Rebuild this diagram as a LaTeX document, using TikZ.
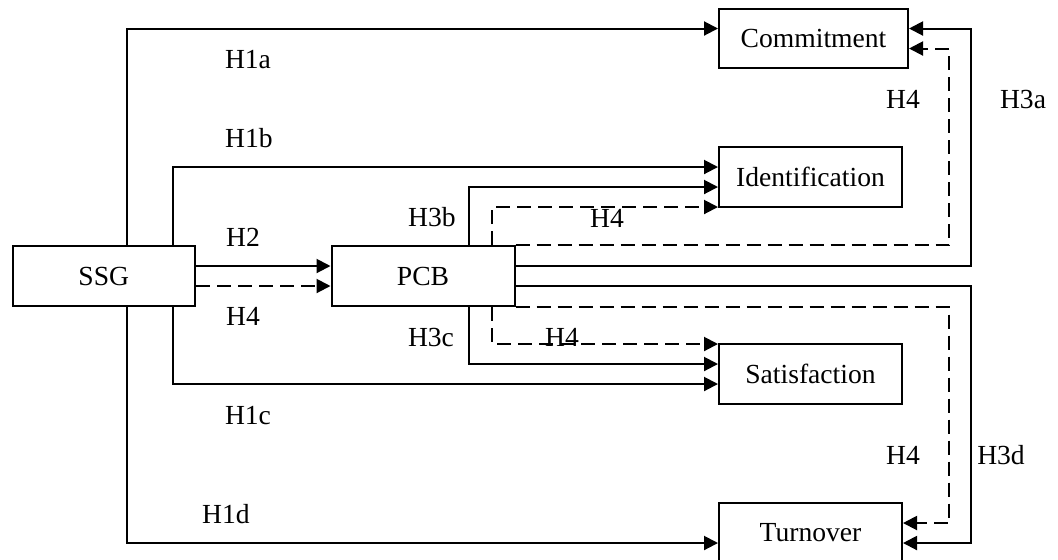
\documentclass[tikz,border=0pt]{standalone}
\usepackage{fontspec}
\setmainfont{Liberation Serif}
\usetikzlibrary{arrows.meta, calc}

\begin{document}
\begin{tikzpicture}[x=0.5pt, y=-0.5pt,
  varbox/.style={draw, line width=1pt, minimum width=91.5pt, minimum height=30pt, inner sep=0pt, font=\fontsize{13.8}{16}\selectfont},
  solidarr/.style={line width=1pt, -{Triangle[length=7pt, width=7pt]}},
  dasharr/.style={solidarr, dash pattern=on 7pt off 3.5pt},
  hyp/.style={inner sep=0pt, font=\fontsize{13.8}{16}\selectfont}]
  \useasboundingbox (0,0) rectangle (1058,559);

  % Variables
  \node[varbox, minimum width=91.25pt] (ssg) at (103.75, 276) {SSG};
  \node[varbox] (pcb) at (423, 276) {PCB};
  \node[varbox, minimum width=94.5pt, minimum height=29.5pt] (com) at (813.5, 38.5) {Commitment};
  \node[varbox] (idf) at (810.5, 177) {Identification};
  \node[varbox] (sat) at (810.5, 374) {Satisfaction};
  \node[varbox] (tur) at (810.5, 533) {Turnover};

  % Direct paths from SSG
  \draw[solidarr] ($(ssg.north)+(23,0)$) |- ($(com.west)+(0,-10)$);
  \draw[solidarr] ($(ssg.north)+(69,0)$) |- ($(idf.west)+(0,-10)$);
  \draw[solidarr] ($(ssg.south)+(69,0)$) |- ($(sat.west)+(0,10)$);
  \draw[solidarr] ($(ssg.south)+(23,0)$) |- ($(tur.west)+(0,10)$);
  \draw[solidarr] ($(ssg.east)+(0,-10)$) -- ($(pcb.west)+(0,-10)$);
  \draw[dasharr] ($(ssg.east)+(0,10)$) -- ($(pcb.west)+(0,10)$);

  % Paths from PCB
  \draw[solidarr] ($(pcb.north)+(46,0)$) |- ($(idf.west)+(0,10)$);
  \draw[dasharr] ($(pcb.north)+(69,0)$) |- ($(idf.west)+(0,30)$);
  \draw[solidarr] ($(pcb.south)+(46,0)$) |- ($(sat.west)+(0,-10)$);
  \draw[dasharr] ($(pcb.south)+(69,0)$) |- ($(sat.west)+(0,-30)$);
  \draw[solidarr] ($(pcb.east)+(0,-10)$) -| ($(com.east)+(62,-10)$) -- ($(com.east)+(0,-10)$);
  \draw[dasharr] (pcb.north east) -| ($(com.east)+(40,10)$) -- ($(com.east)+(0,10)$);
  \draw[solidarr] ($(pcb.east)+(0,10)$) -| ($(tur.east)+(68,10)$) -- ($(tur.east)+(0,10)$);
  \draw[dasharr] (pcb.south east) -| ($(tur.east)+(46,-10)$) -- ($(tur.east)+(0,-10)$);

  % Hypothesis labels
  \node[hyp] (h1a) at (248, 60) {H1a};
  \node[hyp] (h1b) at (249, 138) {H1b};
  \node[hyp] (h2) at (243, 237) {H2};
  \node[hyp] (h4ssg) at (243, 316) {H4};
  \node[hyp] (h1c) at (248, 416) {H1c};
  \node[hyp] (h1d) at (226, 514) {H1d};
  \node[hyp] (h3b) at (432, 217) {H3b};
  \node[hyp] (h3c) at (431, 337) {H3c};
  \node[hyp] (h4idf) at (607, 218) {H4};
  \node[hyp] (h4sat) at (562, 337) {H4};
  \node[hyp] (h4com) at (903, 99) {H4};
  \node[hyp] (h3a) at (1023, 99) {H3a};
  \node[hyp] (h4tur) at (903, 455) {H4};
  \node[hyp] (h3d) at (1001, 455) {H3d};
\end{tikzpicture}
\end{document}
